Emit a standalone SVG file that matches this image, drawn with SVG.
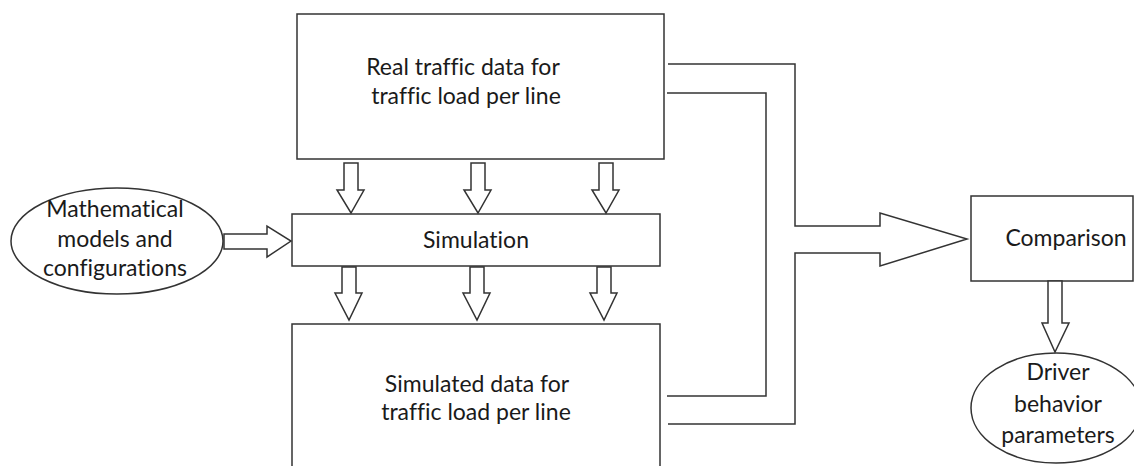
<svg xmlns="http://www.w3.org/2000/svg" width="1134" height="466" viewBox="0 0 1134 466">
<style>
.box{fill:#fff;stroke:#333;stroke-width:1.5}
.arr{fill:#fff;stroke:#333;stroke-width:1.5;stroke-linejoin:miter}
.ln{fill:none;stroke:#333;stroke-width:1.5}
text{font-family:Lato,"Open Sans",sans-serif;font-size:23px;fill:#1a1a1a;text-anchor:middle;font-variant-ligatures:none}
</style>
<rect width="1134" height="466" fill="#fff"/>
<g id="real-data">
<rect class="box" x="297" y="14" width="367" height="145"/>
<text x="463" y="75">Real traffic data for</text>
<text x="466" y="104">traffic load per line</text>
</g>
<g id="simulation">
<rect class="box" x="292" y="214" width="368" height="52"/>
<text x="476" y="248">Simulation</text>
</g>
<g id="simulated-data">
<rect class="box" x="292" y="324" width="368" height="150"/>
<text x="477" y="392">Simulated data for</text>
<text x="476" y="420">traffic load per line</text>
</g>
<g id="math-models">
<ellipse class="box" cx="117" cy="241" rx="106" ry="53"/>
<text x="115" y="217">Mathematical</text>
<text x="115" y="247">models and</text>
<text x="115" y="276">configurations</text>
</g>
<g id="comparison">
<rect class="box" x="971" y="196" width="162" height="85"/>
<text x="1066" y="246">Comparison</text>
</g>
<g id="driver-params">
<ellipse class="box" cx="1056" cy="408" rx="85" ry="55"/>
<text x="1058" y="380">Driver</text>
<text x="1058" y="412">behavior</text>
<text x="1058" y="443">parameters</text>
</g>
<g id="connectors">
<path class="arr" d="M344,163 H358 V190 H364 L351,213 L337,190 H344 Z"/>
<path class="arr" d="M471,163 H485 V190 H491 L478,213 L464,190 H471 Z"/>
<path class="arr" d="M599,163 H613 V190 H619 L606,213 L592,190 H599 Z"/>
<path class="arr" d="M342,267 H356 V293 H362 L349,320 L335,293 H342 Z"/>
<path class="arr" d="M470,267 H484 V293 H490 L477,320 L463,293 H470 Z"/>
<path class="arr" d="M597,267 H611 V293 H617 L604,320 L590,293 H597 Z"/>
<path class="arr" d="M224,234 H267 V226 L291,241 L267,257 V249 H224 Z"/>
<path class="arr" d="M1048,281 H1062 V323 H1069 L1055,352 L1042,323 H1048 Z"/>
<path class="ln" d="M668,64 H795 V226 H880 V213 L967,239 L880,266 V253 H795 V424 H668"/>
<path class="ln" d="M667,93 H766 V396 H667"/>
</g>
</svg>
